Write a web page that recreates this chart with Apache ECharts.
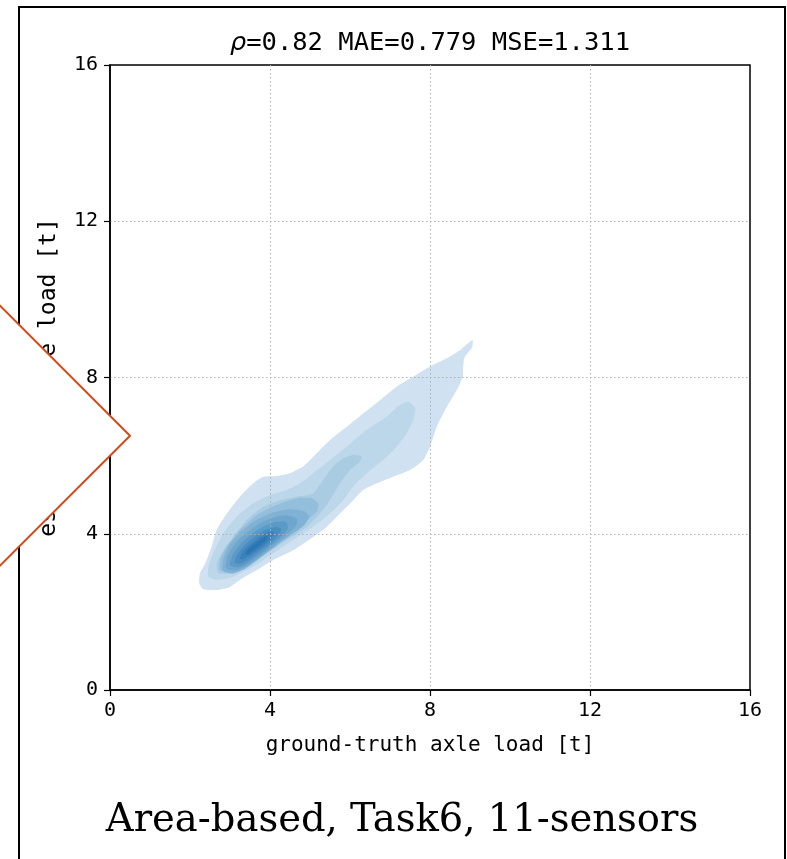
<!DOCTYPE html>
<html><head><meta charset="utf-8">
<script src="https://cdn.jsdelivr.net/npm/echarts@6/dist/echarts.min.js"></script>
<style>html,body{margin:0;padding:0;background:#fff}#c{width:787px;height:859px}</style>
</head><body><div id="c"></div>
<script>
// axis ticks
const xTicks = [0, 4, 8, 12, 16];
const yTicks = [0, 4, 8, 12, 16];
const titleText = '{i|ρ}=0.82 MAE=0.779 MSE=1.311';
const xName = 'ground-truth axle load [t]';
const yName = 'estimated axle load [t]';
const captionText = 'Area-based, Task6, 11-sensors';

// filled KDE contour levels (outer -> inner), in data units [ground truth, estimate]
const contour1 = [[9.06,8.96],[9.06,8.79],[8.87,8.53],[8.83,8.28],[8.82,8.02],[8.67,7.68],[8.42,7.25],[8.17,6.74],[8.0,6.23],[7.83,5.89],[7.5,5.63],[7.08,5.46],[6.67,5.29],[6.33,5.12],[6.08,4.86],[5.75,4.52],[5.42,4.18],[5.08,3.92],[4.58,3.58],[4.08,3.33],[3.67,3.07],[3.25,2.82],[3.0,2.64],[2.67,2.56],[2.33,2.58],[2.23,2.73],[2.25,2.99],[2.38,3.24],[2.54,3.67],[2.67,4.10],[2.92,4.52],[3.25,4.95],[3.58,5.29],[3.83,5.46],[4.17,5.48],[4.5,5.55],[4.83,5.72],[5.08,5.97],[5.5,6.4],[5.92,6.74],[6.33,7.08],[6.75,7.42],[7.17,7.77],[7.58,8.02],[8.0,8.28],[8.42,8.49],[8.75,8.70]];
const contour2 = [[7.46,7.38],[7.63,7.21],[7.58,6.91],[7.42,6.57],[7.17,6.23],[6.83,5.89],[6.42,5.55],[6.08,5.21],[5.83,4.86],[5.5,4.52],[5.08,4.18],[4.58,3.84],[4.08,3.50],[3.58,3.16],[3.08,2.90],[2.67,2.82],[2.46,2.90],[2.46,3.16],[2.58,3.50],[2.83,4.01],[3.17,4.44],[3.58,4.78],[4.0,4.99],[4.42,5.12],[4.75,5.29],[5.08,5.55],[5.5,5.89],[5.92,6.23],[6.42,6.66],[6.92,7.0],[7.25,7.30]];
const contour3 = [[6.29,5.97],[6.25,5.85],[6.0,5.63],[5.75,5.29],[5.5,4.86],[5.25,4.52],[4.92,4.18],[4.42,3.84],[3.92,3.50],[3.42,3.16],[3.0,2.99],[2.71,2.99],[2.67,3.24],[2.83,3.58],[3.08,3.92],[3.42,4.35],[3.83,4.69],[4.25,4.86],[4.67,4.95],[5.08,5.03],[5.33,5.38],[5.58,5.72],[5.83,5.93],[6.08,6.02]];
const contour4 = [[2.75,3.07],[2.75,3.33],[2.92,3.67],[3.25,4.10],[3.67,4.48],[4.17,4.74],[4.67,4.91],[5.04,4.91],[5.21,4.78],[5.17,4.57],[4.83,4.27],[4.33,3.92],[3.83,3.58],[3.33,3.24],[2.92,3.03]];
const contour5 = [[2.82,3.05],[2.83,3.35],[2.98,3.7],[3.25,4.03],[3.6,4.32],[4.0,4.52],[4.45,4.63],[4.85,4.58],[4.98,4.45],[4.85,4.22],[4.5,3.95],[4.1,3.65],[3.75,3.38],[3.4,3.12],[3.05,2.98]];
const contour6 = [[2.9,3.12],[2.93,3.4],[3.1,3.72],[3.38,4.0],[3.72,4.25],[4.1,4.42],[4.45,4.47],[4.68,4.38],[4.65,4.2],[4.4,3.95],[4.08,3.68],[3.75,3.42],[3.45,3.2],[3.15,3.06]];
const contour7 = [[3.0,3.2],[3.06,3.45],[3.25,3.72],[3.5,3.96],[3.82,4.18],[4.15,4.3],[4.4,4.3],[4.45,4.15],[4.3,3.95],[4.02,3.7],[3.72,3.46],[3.45,3.26],[3.2,3.14]];
const contour8 = [[3.12,3.28],[3.2,3.5],[3.38,3.72],[3.62,3.93],[3.9,4.1],[4.15,4.18],[4.28,4.12],[4.2,3.95],[3.95,3.72],[3.7,3.52],[3.45,3.33],[3.25,3.23]];
const contour9 = [[3.25,3.38],[3.33,3.55],[3.5,3.72],[3.72,3.9],[3.95,4.03],[4.1,4.05],[4.05,3.9],[3.85,3.7],[3.62,3.53],[3.42,3.4],[3.3,3.34]];
const contour10 = [[3.38,3.48],[3.45,3.6],[3.6,3.73],[3.78,3.86],[3.93,3.94],[3.9,3.83],[3.75,3.7],[3.58,3.57],[3.45,3.47]];
const contourColors = ['#d0e2f1','#bdd7ea','#a9cce3','#94bfdc','#80b2d5','#6ea6ce','#5b99c7','#4a8cc0','#3a80ba','#2a75b3'];
const contours = [contour1,contour2,contour3,contour4,contour5,contour6,contour7,contour8,contour9,contour10];

const mono = 'DejaVu Sans Mono';
const chart = echarts.init(document.getElementById('c'), null, {renderer:'canvas'});
const axisCommon = {
  type:'value', min:0, max:16, interval:4, z:3,
  axisLine:{show:true, onZero:false, lineStyle:{color:'#000', width:1.5}},
  axisTick:{show:true, length:6, lineStyle:{color:'#000', width:1.2}},
  splitLine:{show:true, showMinLine:false, showMaxLine:false, lineStyle:{color:'#b0b0b0', type:[1.5,2.5], width:1}},
  nameLocation:'middle'
};
chart.setOption({
  animation:false,
  backgroundColor:'#fff',
  grid:{left:110, top:65, width:640, height:625, show:true, borderColor:'#000', borderWidth:1.5, backgroundColor:'transparent'},
  xAxis:Object.assign({}, axisCommon, {
    axisLabel:{color:'#000', fontFamily:mono, fontSize:20, margin:11, formatter:(v)=> xTicks.includes(v)? String(v):''},
    name:xName, nameGap:45, nameTextStyle:{color:'#000', fontFamily:mono, fontSize:21}
  }),
  yAxis:Object.assign({}, axisCommon, {
    axisLabel:{color:'#000', fontFamily:mono, fontSize:20, margin:12, formatter:(v)=> yTicks.includes(v)? String(v):''},
    name:yName, nameGap:49, nameTextStyle:{color:'#000', fontFamily:mono, fontSize:23}
  }),
  series:[{
    type:'custom', z:2, clip:true,
    data: contours.map((c,i)=>[i]),
    encode:{x:-1, y:-1},
    renderItem:(params, api)=>{
      const idx = params.dataIndex;
      const pts = contours[idx].map(p=>api.coord(p));
      return {type:'polygon', shape:{points:pts, smooth:0.2}, style:{fill:contourColors[idx], stroke:null}};
    }
  }],
  graphic:[
    {type:'rect', z:50, silent:true, shape:{x:19, y:7, width:766, height:900}, style:{fill:'none', stroke:'#000', lineWidth:2}},
    {type:'polygon', z:100, silent:true, shape:{points:[[-10,295.7],[130,435.7],[-10,575.7]]}, style:{fill:'#fff', stroke:'#d24a1b', lineWidth:2}},
    {type:'text', z:100, silent:true, x:430, y:43, style:{text:titleText, fontFamily:mono, fontSize:25.5, fill:'#000', align:'center', verticalAlign:'middle',
      rich:{i:{fontStyle:'italic', fontFamily:'DejaVu Sans', fontSize:25.5}}}},
    {type:'text', z:100, silent:true, x:402, y:821, style:{text:captionText, fontFamily:'DejaVu Serif', fontSize:38.5, fill:'#000', align:'center', verticalAlign:'middle'}}
  ]
});
</script></body></html>
